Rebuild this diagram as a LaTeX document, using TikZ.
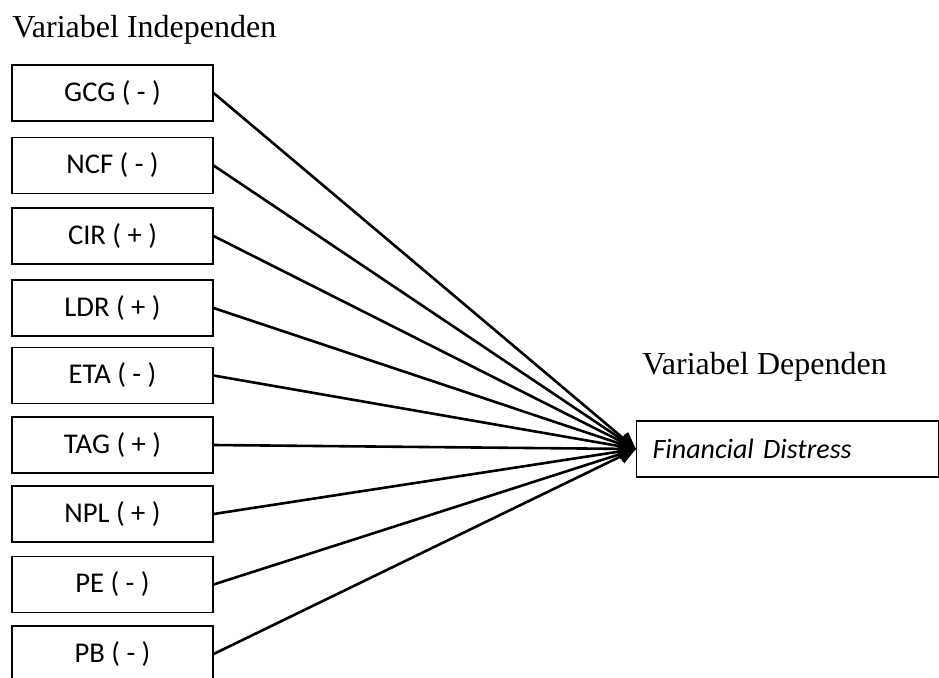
\documentclass[tikz,border=0pt]{standalone}
\usepackage{fontspec}
\setmainfont{Liberation Serif}
\newfontfamily\calibri{Carlito}
\usetikzlibrary{positioning,
        arrows.meta}

\tikzset{
  varbox/.style={rectangle,draw,line width=0.6pt,minimum width=100.5pt,minimum height=28pt,inner sep=0pt,font=\calibri\fontsize{14.3}{17}\selectfont},
  link/.style={-{Triangle[length=8.5pt,width=7.5pt]},line width=1.3pt}
}

\begin{document}
\begin{tikzpicture}[x=0.5pt,y=-0.5pt]
            \useasboundingbox (0,0) rectangle (939,677);
            \node [anchor=base west,inner sep=0pt,font=\fontsize{16}{19}\selectfont] (indep) at (12,37) {Variabel Independen};
            \node [anchor=base west,inner sep=0pt,font=\fontsize{16}{19}\selectfont] (dep) at (642,374) {Variabel Dependen};

            \node [varbox] (gcg) at (112.5,93) {GCG ( - )};
            \node [varbox] (ncf) at (112.5,165.5) {NCF ( - )};
            \node [varbox] (cir) at (112.5,236) {CIR ( + )};
            \node [varbox] (ldr) at (112.5,308) {LDR ( + )};
            \node [varbox] (eta) at (112.5,375.5) {ETA ( - )};
            \node [varbox] (tag) at (112.5,445) {TAG ( + )};
            \node [varbox] (npl) at (112.5,514) {NPL ( + )};
            \node [varbox] (pe) at (112.5,584.5) {PE ( - )};
            \node [varbox] (pb) at (112.5,654) {PB ( - )};
            \node [rectangle,draw,line width=0.6pt,anchor=west,minimum height=28pt,text width=135pt,align=left,inner xsep=8pt,inner ysep=0pt,font=\calibri\itshape\fontsize{14}{17}\selectfont] (fd) at (636,449) {Financial Distress};

            \draw [link] (gcg.east) -- (fd.west);
            \draw [link] (ncf.east) -- (fd.west);
            \draw [link] (cir.east) -- (fd.west);
            \draw [link] (ldr.east) -- (fd.west);
            \draw [link] (eta.east) -- (fd.west);
            \draw [link] (tag.east) -- (fd.west);
            \draw [link] (npl.east) -- (fd.west);
            \draw [link] (pe.east) -- (fd.west);
            \draw [link] (pb.east) -- (fd.west);
        \end{tikzpicture}
\end{document}
